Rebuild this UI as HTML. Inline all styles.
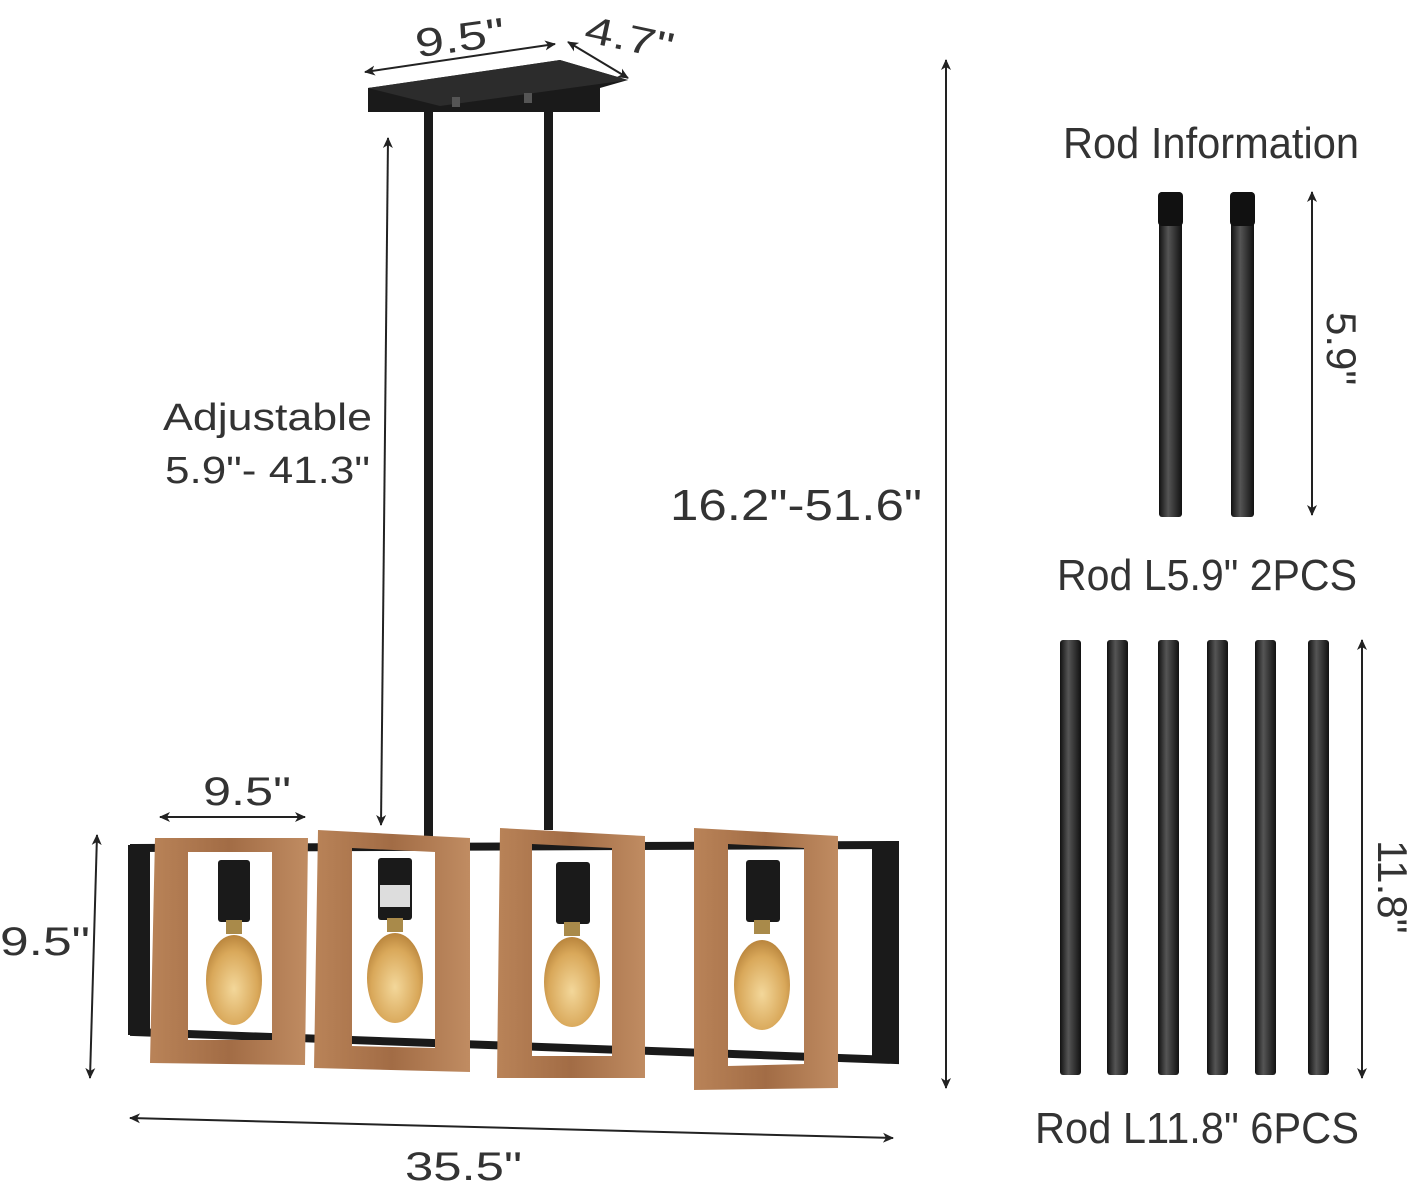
<!DOCTYPE html>
<html><head><meta charset="utf-8"><style>
html,body{margin:0;padding:0;background:#fff;}
svg{display:block;}
text{font-family:"Liberation Sans",sans-serif;fill:#333;}
</style></head><body>
<svg width="1419" height="1188" viewBox="0 0 1419 1188" xmlns="http://www.w3.org/2000/svg">
<defs>
<marker id="a" markerWidth="12" markerHeight="12" refX="10" refY="6" orient="auto" markerUnits="userSpaceOnUse"><path d="M0,1 L11,6 L0,11 L3,6 Z" fill="#222"/></marker>
<marker id="b" markerWidth="12" markerHeight="12" refX="2" refY="6" orient="auto" markerUnits="userSpaceOnUse"><path d="M12,1 L1,6 L12,11 L9,6 Z" fill="#222"/></marker>
<linearGradient id="rod" x1="0" x2="1"><stop offset="0" stop-color="#111"/><stop offset="0.4" stop-color="#555"/><stop offset="1" stop-color="#111"/></linearGradient>
<linearGradient id="wood" x1="0" x2="1"><stop offset="0" stop-color="#b98358"/><stop offset="0.5" stop-color="#a26c45"/><stop offset="1" stop-color="#c08c62"/></linearGradient>
<radialGradient id="bulb" cx="0.5" cy="0.6" r="0.6"><stop offset="0" stop-color="#f3d79a"/><stop offset="0.7" stop-color="#d9a85a"/><stop offset="1" stop-color="#b9853d"/></radialGradient>
</defs>

<polygon points="368,88 560,60 628,80 600,88 600,112 368,112" fill="#1a1a1a"/>
<polygon points="368,88 560,60 628,80 440,106" fill="#2c2c2c"/>
<rect x="452" y="97" width="8" height="10" fill="#555"/><rect x="524" y="93" width="8" height="10" fill="#555"/>
<rect x="424" y="112" width="9" height="730" fill="#1a1a1a"/>
<rect x="544" y="100" width="9" height="730" fill="#1a1a1a"/>

<g fill="none" stroke="#1a1a1a" stroke-width="8">
<polygon points="134,848 895,845 895,1060 134,1032"/>
</g>
<rect x="128" y="845" width="22" height="190" fill="#1a1a1a"/>
<rect x="872" y="845" width="22" height="218" fill="#1a1a1a"/>

<g>
<path d="M155,838 L308,838 L305,1065 L150,1063 Z M188,852 L272,852 L272,1040 L188,1040 Z" fill="url(#wood)" fill-rule="evenodd"/>
<path d="M318,830 L470,838 L470,1072 L314,1068 Z M352,848 L435,852 L435,1048 L352,1046 Z" fill="url(#wood)" fill-rule="evenodd"/>
<path d="M500,828 L645,836 L645,1078 L497,1078 Z M532,844 L612,848 L612,1056 L532,1056 Z" fill="url(#wood)" fill-rule="evenodd"/>
<path d="M694,828 L838,836 L838,1088 L694,1090 Z M728,844 L804,848 L804,1064 L728,1066 Z" fill="url(#wood)" fill-rule="evenodd"/>
</g>
<g>
<rect x="218" y="860" width="32" height="62" rx="3" fill="#1a1a1a"/><ellipse cx="234" cy="980" rx="28" ry="45" fill="url(#bulb)"/><rect x="226" y="920" width="16" height="14" fill="#a98a4a"/>
<rect x="378" y="858" width="34" height="62" rx="3" fill="#1a1a1a"/><rect x="380" y="885" width="30" height="22" fill="#ddd"/><ellipse cx="395" cy="978" rx="28" ry="45" fill="url(#bulb)"/><rect x="387" y="918" width="16" height="14" fill="#a98a4a"/>
<rect x="556" y="862" width="34" height="62" rx="3" fill="#1a1a1a"/><ellipse cx="572" cy="982" rx="28" ry="45" fill="url(#bulb)"/><rect x="564" y="922" width="16" height="14" fill="#a98a4a"/>
<rect x="746" y="860" width="34" height="62" rx="3" fill="#1a1a1a"/><ellipse cx="762" cy="985" rx="28" ry="45" fill="url(#bulb)"/><rect x="754" y="920" width="16" height="14" fill="#a98a4a"/>
</g>

<g stroke="#222" stroke-width="2" fill="none" marker-start="url(#b)" marker-end="url(#a)">
<line x1="365" y1="72" x2="555" y2="44"/>
<line x1="568" y1="42" x2="628" y2="78"/>
<line x1="946" y1="60" x2="946" y2="1088"/>
<line x1="388" y1="138" x2="381" y2="825"/>
<line x1="160" y1="817" x2="305" y2="817"/>
<line x1="97" y1="835" x2="90" y2="1078"/>
<line x1="130" y1="1118" x2="893" y2="1138"/>
<line x1="1312" y1="192" x2="1312" y2="515"/>
<line x1="1362" y1="640" x2="1362" y2="1078"/>
</g>

<text x="415" y="52" font-size="40" textLength="90" lengthAdjust="spacingAndGlyphs" transform="rotate(-8 455 38)">9.5"</text>
<text x="584" y="50" font-size="38" textLength="90" lengthAdjust="spacingAndGlyphs" transform="rotate(12 625 40)">4.7"</text>
<text x="670" y="520" font-size="44" textLength="252" lengthAdjust="spacingAndGlyphs">16.2"-51.6"</text>
<text x="163" y="430" font-size="38" textLength="209" lengthAdjust="spacingAndGlyphs">Adjustable</text>
<text x="165" y="483" font-size="38" textLength="205" lengthAdjust="spacingAndGlyphs">5.9"- 41.3"</text>
<text x="203" y="805" font-size="40" textLength="88" lengthAdjust="spacingAndGlyphs">9.5"</text>
<text x="0" y="955" font-size="40" textLength="90" lengthAdjust="spacingAndGlyphs">9.5"</text>
<text x="405" y="1180" font-size="40" textLength="117" lengthAdjust="spacingAndGlyphs">35.5"</text>

<text x="1063" y="158" font-size="44" textLength="296" lengthAdjust="spacingAndGlyphs">Rod Information</text>
<text x="1057" y="590" font-size="44" textLength="300" lengthAdjust="spacingAndGlyphs">Rod L5.9" 2PCS</text>
<text x="1035" y="1143" font-size="44" textLength="324" lengthAdjust="spacingAndGlyphs">Rod L11.8" 6PCS</text>
<text x="0" y="0" font-size="42" transform="translate(1327,312) rotate(90)">5.9"</text>
<text x="0" y="0" font-size="42" transform="translate(1378,840) rotate(90)">11.8"</text>

<rect x="1159" y="192" width="23" height="325" rx="3" fill="url(#rod)"/>
<rect x="1158" y="192" width="25" height="34" rx="4" fill="#111"/>
<rect x="1231" y="192" width="23" height="325" rx="3" fill="url(#rod)"/>
<rect x="1230" y="192" width="25" height="34" rx="4" fill="#111"/>
<g fill="url(#rod)">
<rect x="1060" y="640" width="21" height="435" rx="3"/>
<rect x="1107" y="640" width="21" height="435" rx="3"/>
<rect x="1158" y="640" width="21" height="435" rx="3"/>
<rect x="1207" y="640" width="21" height="435" rx="3"/>
<rect x="1255" y="640" width="21" height="435" rx="3"/>
<rect x="1308" y="640" width="21" height="435" rx="3"/>
</g>
</svg>
</body></html>
